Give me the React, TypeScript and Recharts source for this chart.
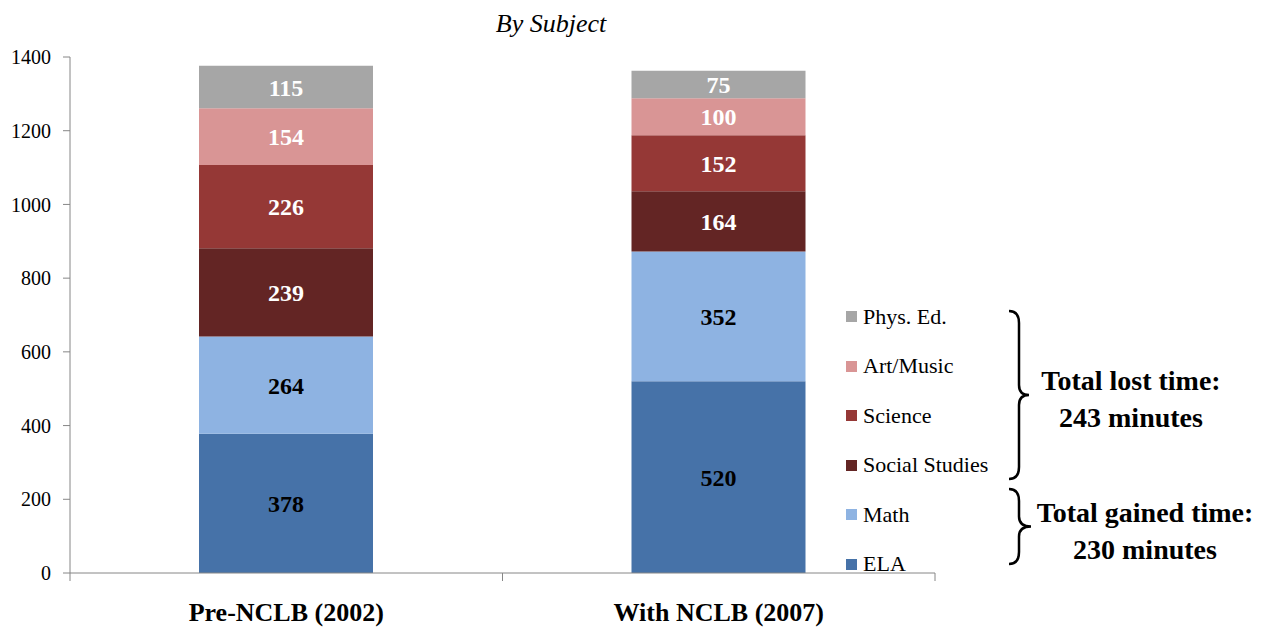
import React from "react";
import { BarChart, Bar, XAxis, YAxis, Legend, LabelList } from "recharts";

// Minutes per week, by subject
const categories = ["Pre-NCLB (2002)", "With NCLB (2007)"];
const ela = [378, 520];
const math = [264, 352];
const socialStudies = [239, 164];
const science = [226, 152];
const artMusic = [154, 100];
const physEd = [115, 75];
const yTicks = [0, 200, 400, 600, 800, 1000, 1200, 1400];

const series = [
    { key: "ela", name: "ELA", values: ela, color: "#4672A8", label: "#000" },
    { key: "math", name: "Math", values: math, color: "#8EB3E2", label: "#000" },
    { key: "social", name: "Social Studies", values: socialStudies, color: "#632524", label: "#fff" },
    { key: "science", name: "Science", values: science, color: "#953836", label: "#fff" },
    { key: "art", name: "Art/Music", values: artMusic, color: "#D99595", label: "#fff" },
    { key: "pe", name: "Phys. Ed.", values: physEd, color: "#A6A6A6", label: "#fff" },
];

const data = categories.map((name, i) => {
    const row: Record<string, string | number> = { name };
    series.forEach((s) => { row[s.key] = s.values[i]; });
    return row;
});

const FONT = "Liberation Serif, DejaVu Serif, serif";
const W = 1277;
const H = 629;
const M = { top: 57, right: 342, bottom: 0, left: 10 };
const Y_W = 60;
const halfBand = (W - M.left - Y_W - M.right) / categories.length / 2;

// x-axis ticks sit on category boundaries, not centres
const XTick = (props: any) => {
    const { x, y, payload, index } = props;
    const last = index === categories.length - 1;
    return (
        <g>
            <line x1={x - halfBand} x2={x - halfBand} y1={y - 8} y2={y} stroke="#868686" />
            {last && <line x1={x + halfBand} x2={x + halfBand} y1={y - 8} y2={y} stroke="#868686" />}
            <text x={x} y={y + 40} textAnchor="middle" fontFamily={FONT} fontWeight="bold" fontSize={26} fill="#000">
                {payload.value}
            </text>
        </g>
    );
};

const LegendContent = () => (
    <div style={{ fontFamily: FONT, fontSize: 22, color: "#000" }}>
        {[...series].reverse().map((s) => (
            <div key={s.key} style={{ display: "flex", alignItems: "center", height: 49.5 }}>
                <span style={{ width: 11, height: 11, background: s.color, marginRight: 6, display: "inline-block" }} />
                <span>{s.name}</span>
            </div>
        ))}
    </div>
);

const brace = (x0: number, y0: number, y1: number, tip: number) => {
    const ym = (y0 + y1) / 2;
    const xv = x0 + 10;
    return `M${x0},${y0} Q${xv},${y0} ${xv},${y0 + 12} L${xv},${ym - 10} Q${xv},${ym} ${tip},${ym} Q${xv},${ym} ${xv},${ym + 10} L${xv},${y1 - 12} Q${xv},${y1} ${x0},${y1}`;
};

export default function App() {
    return (
        <div style={{ position: "absolute", left: 0, top: 0, width: W, height: H, background: "#fff" }}>
            <BarChart width={W} height={H} data={data} margin={M} barSize={174}>
                <text x={551} y={32} textAnchor="middle" fontFamily={FONT} fontStyle="italic" fontSize={26} fill="#000">
                    By Subject
                </text>
                <XAxis
                    dataKey="name"
                    height={56}
                    axisLine={{ stroke: "#868686" }}
                    tickLine={false}
                    tick={<XTick />}
                    interval={0}
                />
                <YAxis
                    width={Y_W}
                    domain={[0, 1400]}
                    ticks={yTicks}
                    axisLine={{ stroke: "#868686" }}
                    tickLine={{ stroke: "#868686" }}
                    tickSize={7}
                    tickMargin={12}
                    tick={{ fontFamily: FONT, fontSize: 20, fill: "#000" }}
                />
                <Legend
                    layout="vertical"
                    align="center"
                    verticalAlign="middle"
                    content={<LegendContent />}
                    wrapperStyle={{ left: 846, top: 292, width: 170 }}
                />
                {series.map((s) => (
                    <Bar key={s.key} dataKey={s.key} name={s.name} stackId="a" fill={s.color} isAnimationActive={false}>
                        <LabelList
                            dataKey={s.key}
                            position="center"
                            fill={s.label}
                            fontFamily={FONT}
                            fontWeight="bold"
                            fontSize={24}
                        />
                    </Bar>
                ))}
            </BarChart>
            <svg width={W} height={H} style={{ position: "absolute", left: 0, top: 0, pointerEvents: "none" }}>
                <path d={brace(1009, 311, 479, 1029)} fill="none" stroke="#000" strokeWidth={2.5} />
                <path d={brace(1009, 489, 564, 1031)} fill="none" stroke="#000" strokeWidth={2.5} />
                <g fontFamily={FONT} fontWeight="bold" fontSize={28} fill="#000" textAnchor="middle">
                    <text x={1131} y={390}>Total lost time:</text>
                    <text x={1131} y={427}>243 minutes</text>
                    <text x={1145} y={522}>Total gained time:</text>
                    <text x={1145} y={559}>230 minutes</text>
                </g>
            </svg>
        </div>
    );
}
